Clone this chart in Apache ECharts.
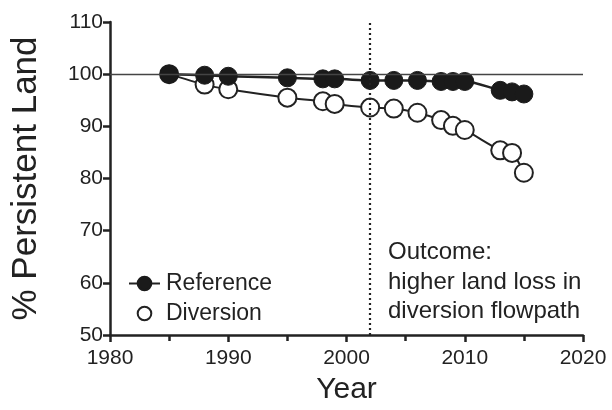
<!DOCTYPE html>
<html>
<head>
<meta charset="utf-8">
<script src="https://cdn.jsdelivr.net/npm/echarts@6/dist/echarts.min.js"></script>
<style>html,body{margin:0;padding:0;background:#fff;}#c{width:612px;height:410px;}</style>
</head>
<body>
<div id="c"></div>
<script>
var years = [1985, 1988, 1990, 1995, 1998, 1999, 2002, 2004, 2006, 2008, 2009, 2010, 2013, 2014, 2015];
var referenceValues = [100, 99.8, 99.6, 99.3, 99.1, 99.1, 98.8, 98.8, 98.8, 98.6, 98.6, 98.6, 96.9, 96.6, 96.2];
var diversionValues = [100, 98.0, 97.1, 95.5, 94.8, 94.3, 93.6, 93.4, 92.6, 91.2, 90.1, 89.3, 85.4, 84.9, 81.1];
var xTicks = {min: 1980, max: 2020, interval: 10};
var yTicks = {min: 50, max: 110, interval: 10};
var referenceLine = 100;
var treatmentYear = 2002;
var annotation = ['Outcome:', 'higher land loss in', 'diversion flowpath'];

function pairs(xs, ys) { return xs.map(function (x, i) { return [x, ys[i]]; }); }

var FONT = '"Liberation Sans", Arial, Helvetica, sans-serif';
var INK = '#222';
var chart = echarts.init(document.getElementById('c'), null, {renderer: 'canvas'});
chart.setOption({
  animation: false,
  backgroundColor: '#fff',
  textStyle: {fontFamily: FONT, color: INK},
  grid: {left: 110, right: 29, top: 22, bottom: 72, containLabel: false},
  legend: {
    orient: 'vertical', left: 128, top: 272, itemGap: 7,
    itemWidth: 31, itemHeight: 17, padding: 0,
    textStyle: {fontFamily: FONT, fontSize: 23, lineHeight: 20, color: INK, padding: [0, 0, 0, 1]},
    data: [
      {name: 'Reference'},
      {name: 'Diversion', lineStyle: {opacity: 0}}
    ]
  },
  xAxis: {
    type: 'value', min: xTicks.min, max: xTicks.max, interval: xTicks.interval,
    name: 'Year', nameLocation: 'middle', nameGap: 40,
    nameTextStyle: {fontFamily: FONT, fontSize: 30, color: INK},
    axisLine: {lineStyle: {color: INK, width: 2.5}},
    axisTick: {show: true, length: 7, lineStyle: {color: INK, width: 2.5}},
    minorTick: {show: true, splitNumber: 2, length: 6, lineStyle: {color: INK, width: 2.5}},
    axisLabel: {fontFamily: FONT, fontSize: 21, color: INK, margin: 13, formatter: function (v) { return String(v); }},
    splitLine: {show: false}
  },
  yAxis: {
    type: 'value', min: yTicks.min, max: yTicks.max, interval: yTicks.interval,
    name: '% Persistent Land', nameLocation: 'middle', nameGap: 66,
    nameTextStyle: {fontFamily: FONT, fontSize: 35, color: INK},
    axisLine: {show: true, lineStyle: {color: INK, width: 2.5}},
    axisTick: {show: true, length: 7, lineStyle: {color: INK, width: 2.5}},
    axisLabel: {fontFamily: FONT, fontSize: 21, color: INK, margin: 7},
    splitLine: {show: false}
  },
  series: [
    {
      name: 'Diversion', type: 'line', smooth: 0.3, z: 2,
      data: pairs(years, diversionValues),
      symbol: 'circle', symbolSize: 18,
      itemStyle: {color: '#fff', borderColor: INK, borderWidth: 2},
      lineStyle: {color: INK, width: 2},
      markLine: {
        silent: true, symbol: 'none', label: {show: false},
        data: [
          {yAxis: referenceLine, lineStyle: {type: 'solid', color: '#444', width: 1.4}},
          {xAxis: treatmentYear, lineStyle: {type: [2, 3], color: INK, width: 2.2}}
        ]
      }
    },
    {
      name: 'Reference', type: 'line', smooth: 0.3, z: 3,
      data: pairs(years, referenceValues),
      symbol: 'circle', symbolSize: 18,
      itemStyle: {color: '#1a1a1a', borderColor: '#1a1a1a', borderWidth: 1},
      lineStyle: {color: INK, width: 2.5}
    }
  ],
  graphic: [{
    type: 'text', left: 388, top: 238, silent: true,
    style: {text: annotation.join('\n'), font: '24px ' + FONT, fill: INK, lineHeight: 29.5}
  }]
});
</script>
</body>
</html>
